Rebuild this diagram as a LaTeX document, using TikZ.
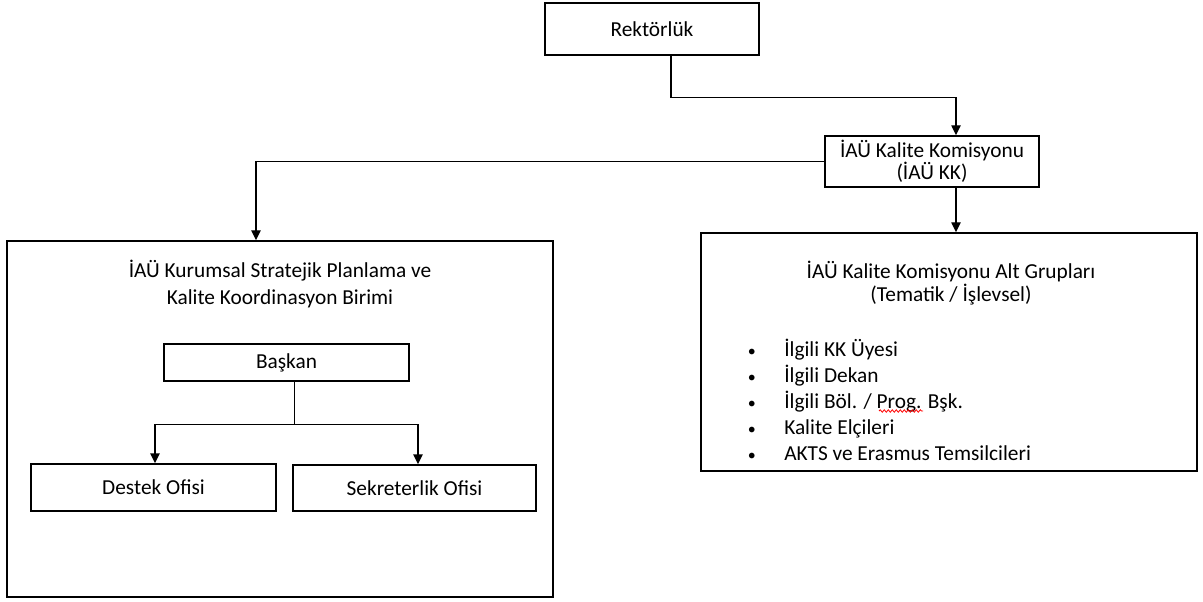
\documentclass[tikz,border=0pt]{standalone}
\usepackage{fontspec}
\setmainfont{Carlito}
\usepackage{tikz}
\usetikzlibrary{calc,arrows.meta,decorations.pathmorphing}

\newcommand{\itembul}{\makebox[27.75pt][l]{\hspace{0.5pt}\scalebox{0.75}{•}}}

\begin{document}
\begin{tikzpicture}[x=0.75pt,y=-0.75pt,
    box/.style={draw, line width=1.1pt, rectangle, inner sep=0pt, align=center,
                font={\fontsize{16}{16.5}\selectfont}},
    conn/.style={line width=1.1pt, -{Triangle[length=7.5pt,width=7pt]}},
    plain/.style={line width=1.1pt}]
                      \useasboundingbox (0,0) rectangle (1203,602);
                      % upper level
                      \node[box, minimum width=160.5pt, minimum height=39pt] (rektor) at (652,29) {Rektörlük};
                      \node[box, minimum width=160.5pt, minimum height=38.25pt] (kk) at (932,161.5) {İAÜ Kalite Komisyonu\\(İAÜ KK)};
                      % two big frames
                      \node[box, minimum width=409.5pt, minimum height=267pt] (birim) at (280,419) {};
                      \node[box, minimum width=372pt, minimum height=178.5pt] (altgrup) at (949,352) {};
                      \node[align=center, font={\fontsize{16}{20.6}\selectfont}] (birimtitle) at (280,284) {İAÜ Kurumsal Stratejik Planlama ve\\Kalite Koordinasyon Birimi};
                      \node[align=center, font={\fontsize{16}{17.25}\selectfont}] (altgruptitle) at (951,283.5) {İAÜ Kalite Komisyonu Alt Grupları\\(Tematik / İşlevsel)};
                      \node[anchor=west, align=left, inner sep=0pt, font={\fontsize{16}{19.5}\selectfont}] (uyeler) at (747,400)
                          {\itembul İlgili KK Üyesi\\
                           \itembul İlgili Dekan\\
                           \itembul İlgili Böl. / Prog. Bşk.\\
                           \itembul Kalite Elçileri\\
                           \itembul AKTS ve Erasmus Temsilcileri};
                      \draw[red, line width=0.6pt, decorate, decoration={snake, amplitude=0.9pt, segment length=3pt}] (879,411) -- (923,411);
                      % inner units
                      \node[box, minimum width=183.75pt, minimum height=27.75pt] (baskan) at (286.5,362.5) {Başkan};
                      \node[box, minimum width=183.75pt, minimum height=35.25pt] (destek) at (153.5,487.5) {Destek Ofisi};
                      \node[box, minimum width=182.25pt, minimum height=34.5pt] (sekreter) at (414.5,488) {Sekreterlik Ofisi};
                      % connectors
                      \draw[conn] ($(rektor.south)+(19,0)$) -- ++(0,42) -| ($(kk.north)+(24,0)$);
                      \draw[conn] (kk.west) -| ($(birim.north)+(-24,0)$);
                      \draw[conn] ($(kk.south)+(24,0)$) -- ($(altgrup.north)+(7,0)$);
                      \draw[plain] ($(baskan.south)+(8,0)$) -- ++(0,43) coordinate (fork);
                      \draw[conn] (fork) -| ($(destek.north)+(1.5,0)$);
                      \draw[conn] (fork) -| ($(sekreter.north)+(3.5,0)$);
                  \end{tikzpicture}
\end{document}
